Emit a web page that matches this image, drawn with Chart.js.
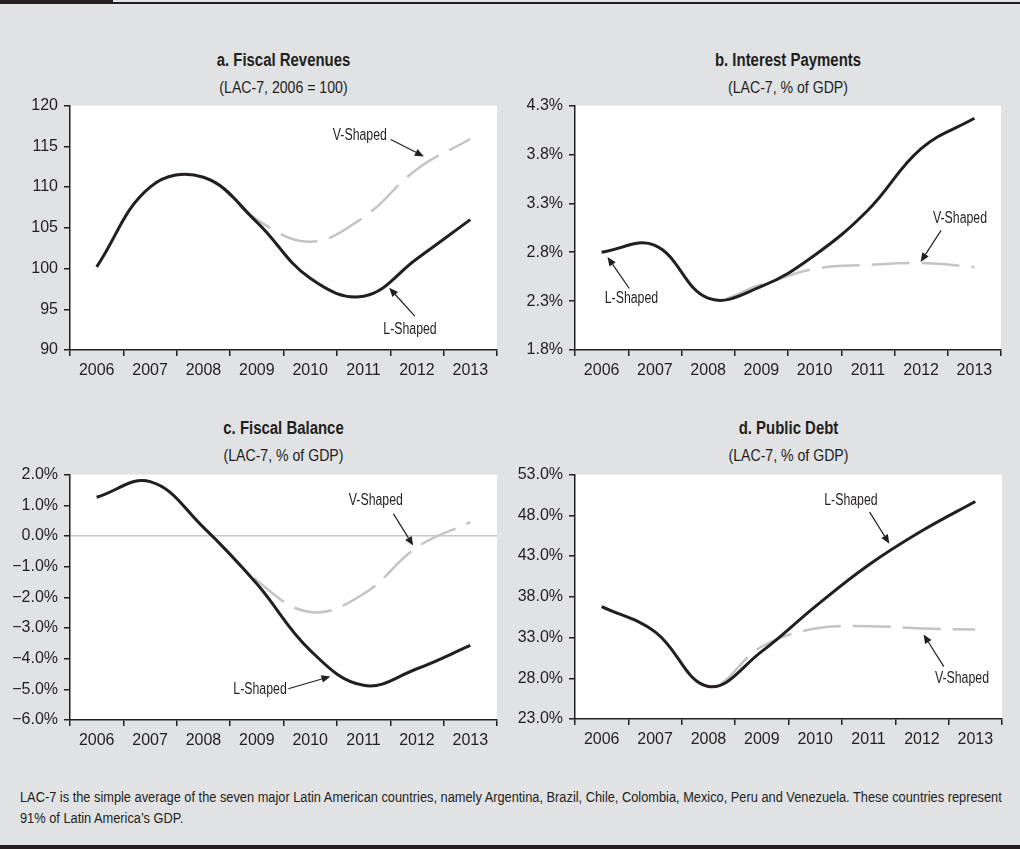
<!DOCTYPE html>
<html>
<head>
<meta charset="utf-8">
<script src="https://cdn.jsdelivr.net/npm/chart.js@4.4.1/dist/chart.umd.min.js"></script>
<style>
html, body { margin: 0; padding: 0; }
body {
  width: 1020px; height: 849px; position: relative; overflow: hidden;
  background: #e1e2e4; color: #231f20;
  font-family: "Liberation Sans", Arial, sans-serif;
}
.bar { position: absolute; background: #231f20; }
.ttl, .sub { position: absolute; text-align: center; white-space: nowrap; line-height: 20px; transform: scaleX(0.83); transform-origin: center; }
.ttl { font-weight: bold; font-size: 18px; }
.sub { font-size: 17px; }
canvas { position: absolute; }
.note { position: absolute; left: 20px; top: 786px; font-size: 15.5px; line-height: 21px; white-space: nowrap; transform-origin: left top; }
</style>
</head>
<body>
<div class="bar" style="left:0;top:2px;width:1020px;height:2px"></div>
<div class="bar" style="left:0;top:0;width:113px;height:3px"></div>
<div class="bar" style="left:0;top:845px;width:1020px;height:4px"></div>

<div class="ttl" style="left:70px;top:50px;width:427px">a. Fiscal Revenues</div>
<div class="sub" style="left:70px;top:78px;width:427px">(LAC-7, 2006 = 100)</div>
<div class="ttl" style="left:575px;top:50px;width:426px">b. Interest Payments</div>
<div class="sub" style="left:575px;top:78px;width:426px">(LAC-7, % of GDP)</div>
<div class="ttl" style="left:70px;top:418px;width:427px">c. Fiscal Balance</div>
<div class="sub" style="left:70px;top:446px;width:427px">(LAC-7, % of GDP)</div>
<div class="ttl" style="left:575px;top:418px;width:427px">d. Public Debt</div>
<div class="sub" style="left:575px;top:446px;width:427px">(LAC-7, % of GDP)</div>

<canvas id="cA" width="510" height="300" style="left:0;top:90px"></canvas>
<canvas id="cB" width="515" height="300" style="left:505px;top:90px"></canvas>
<canvas id="cC" width="510" height="300" style="left:0;top:459px"></canvas>
<canvas id="cD" width="515" height="300" style="left:505px;top:459px"></canvas>

<div class="note" id="note">LAC-7 is the simple average of the seven major Latin American countries, namely Argentina, Brazil, Chile, Colombia, Mexico, Peru and Venezuela. These countries represent<br>91% of Latin America’s GDP.</div>

<script>
const years = ['2006', '2007', '2008', '2009', '2010', '2011', '2012', '2013'];

// a. fiscal revenues (2006 = 100)
const revenueL = [100.2, 110.0, 111.2, 105.7, 98.8, 96.6, 101.2, 106.0];
const revenueV = [100.2, 110.0, 111.2, 106.0, 103.3, 106.3, 112.2, 115.9];
// b. interest payments (% of GDP)
const interestL = [2.80, 2.87, 2.33, 2.45, 2.77, 3.23, 3.86, 4.17];
const interestV = [2.80, 2.87, 2.33, 2.47, 2.63, 2.67, 2.69, 2.65];
// c. fiscal balance (% of GDP)
const balanceL = [1.26, 1.77, 0.28, -1.56, -3.73, -4.87, -4.33, -3.57];
const balanceV = [1.26, 1.77, 0.28, -1.45, -2.48, -1.89, -0.37, 0.45];
// d. public debt (% of GDP)
const debtL = [36.8, 33.7, 27.0, 31.3, 36.8, 41.9, 46.1, 49.7];
const debtV = [36.8, 33.7, 27.0, 31.9, 34.1, 34.4, 34.1, 34.0];

const INK = '#231f20';
const FONT = '"Liberation Sans", Arial, sans-serif';

Chart.defaults.font.family = FONT;
Chart.defaults.color = INK;

// squeeze the footnote to the width of the original line
const note = document.getElementById('note');
note.style.transform = 'scaleX(' + (982 / note.scrollWidth) + ')';

const whitePlot = {
  id: 'whitePlot',
  beforeDraw(chart) {
    const a = chart.chartArea;
    chart.ctx.save();
    chart.ctx.fillStyle = '#ffffff';
    chart.ctx.fillRect(a.left, a.top, a.right - a.left, a.bottom - a.top);
    chart.ctx.restore();
  }
};

// labels with arrows, placed in data units (category index, value)
const arrowNotes = {
  id: 'arrowNotes',
  afterDatasetsDraw(chart, args, opts) {
    const ctx = chart.ctx, x = chart.scales.x, y = chart.scales.y;
    ctx.save();
    ctx.font = '16px ' + FONT;
    ctx.fillStyle = INK;
    ctx.strokeStyle = INK;
    ctx.lineWidth = 1.2;
    ctx.textAlign = 'center';
    ctx.textBaseline = 'middle';
    (opts.notes || []).forEach(n => {
      ctx.save();
      ctx.translate(x.getPixelForValue(n.at[0]), y.getPixelForValue(n.at[1]));
      ctx.scale(0.77, 1);
      ctx.fillText(n.text, 0, 0);
      ctx.restore();
      const x1 = x.getPixelForValue(n.from[0]), y1 = y.getPixelForValue(n.from[1]);
      const x2 = x.getPixelForValue(n.to[0]), y2 = y.getPixelForValue(n.to[1]);
      const ang = Math.atan2(y2 - y1, x2 - x1);
      const bx = x2 - 9 * Math.cos(ang), by = y2 - 9 * Math.sin(ang);
      ctx.beginPath();
      ctx.moveTo(x1, y1);
      ctx.lineTo(bx, by);
      ctx.stroke();
      ctx.beginPath();
      ctx.moveTo(x2, y2);
      ctx.lineTo(bx + 3.8 * Math.sin(ang), by - 3.8 * Math.cos(ang));
      ctx.lineTo(bx - 3.8 * Math.sin(ang), by + 3.8 * Math.cos(ang));
      ctx.closePath();
      ctx.fill();
    });
    ctx.restore();
  }
};

function makePanel(id, lData, vData, yOpts, padRight, xHeight, fmt, notes, zeroLine) {
  return new Chart(document.getElementById(id), {
    type: 'line',
    data: {
      labels: years,
      datasets: [
        { label: 'L-Shaped', data: lData, borderColor: INK, borderWidth: 3, tension: 0.4, pointRadius: 0, fill: false },
        { label: 'V-Shaped', data: vData, borderColor: '#c4c4c4', borderWidth: 2.5, borderDash: [38, 12], tension: 0.4, pointRadius: 0, fill: false }
      ]
    },
    options: {
      responsive: false,
      animation: false,
      devicePixelRatio: 1,
      layout: { padding: { top: 15, right: padRight, left: 0, bottom: 0 } },
      plugins: {
        legend: { display: false },
        tooltip: { enabled: false },
        arrowNotes: { notes: notes }
      },
      scales: {
        x: {
          offset: true,
          grid: { offset: true, drawOnChartArea: false, tickLength: 6, tickColor: INK, lineWidth: 1.5 },
          border: { color: INK, width: 1.5 },
          ticks: { font: { size: 16 }, color: INK, padding: 5, maxRotation: 0 },
          afterFit(s) { s.height = xHeight; }
        },
        y: {
          min: yOpts.min, max: yOpts.max,
          grid: {
            drawOnChartArea: !!zeroLine, tickLength: 6, tickColor: INK, lineWidth: 1.5,
            color: c => (zeroLine && c.tick && Math.abs(c.tick.value) < 1e-9) ? '#c8c8c8' : 'rgba(0,0,0,0)'
          },
          border: { color: INK, width: 1.5 },
          ticks: { stepSize: yOpts.step, font: { size: 16 }, color: INK, padding: 6, callback: fmt },
          afterFit(s) { s.width = 70; }
        }
      }
    },
    plugins: [whitePlot, arrowNotes]
  });
}

const pct1 = v => (v < 0 ? '\u2212' : '') + Math.abs(v).toFixed(1) + '%';

makePanel('cA', revenueL, revenueV, { min: 90, max: 120, step: 5 }, 13, 40, v => v, [
  { text: 'V-Shaped', at: [4.93, 116.33], from: [5.51, 115.84], to: [6.13, 113.76] },
  { text: 'L-Shaped', at: [5.87, 92.53], from: [5.96, 94.16], to: [5.48, 97.63] }
]);
makePanel('cB', interestL, interestV, { min: 1.8, max: 4.3, step: 0.5 }, 19, 40, pct1, [
  { text: 'L-Shaped', at: [0.56, 2.327], from: [0.52, 2.429], to: [0.11, 2.752] },
  { text: 'V-Shaped', at: [6.73, 3.143], from: [6.375, 3.024], to: [5.99, 2.701] }
]);
makePanel('cC', balanceL, balanceV, { min: -6, max: 2, step: 1 }, 13, 39, pct1, [
  { text: 'V-Shaped', at: [5.23, 1.153], from: [5.56, 0.719], to: [5.93, -0.313] },
  { text: 'L-Shaped', at: [3.06, -5.014], from: [3.59, -4.98], to: [4.38, -4.58] }
], true);
makePanel('cD', debtL, debtV, { min: 23, max: 53, step: 5 }, 18, 40, pct1, [
  { text: 'L-Shaped', at: [4.67, 49.82], from: [5.02, 48.39], to: [5.39, 44.52] },
  { text: 'V-Shaped', at: [6.75, 27.92], from: [6.41, 29.43], to: [6.03, 33.38] }
]);
</script>
</body>
</html>
